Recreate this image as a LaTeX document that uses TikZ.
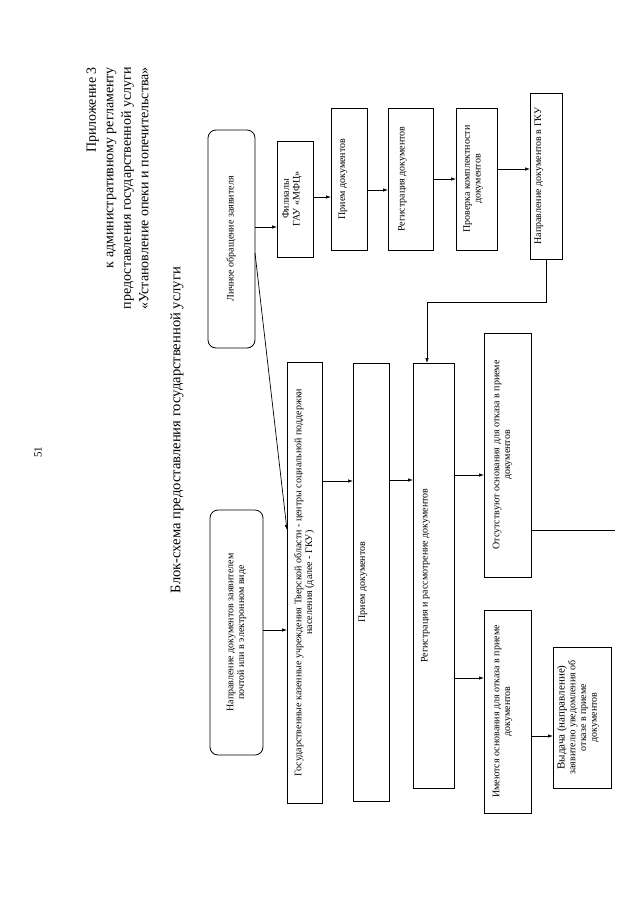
\documentclass[tikz,border=0pt]{standalone}
\usepackage{fontspec}
\setmainfont{Liberation Serif}
\usepackage{graphicx}
\usetikzlibrary{arrows.meta,calc}
\newcommand{\rt}[2]{\rotatebox{90}{\begin{tabular}{@{}c@{}}#2\end{tabular}}\hspace*{#1}}
\newcommand{\rtr}[1]{\rotatebox{90}{\begin{tabular}{@{}r@{}}#1\end{tabular}}}
\begin{document}
\begin{tikzpicture}[x=1pt,y=-1pt,
  box/.style={draw, line width=0.8pt, inner sep=0pt, outer sep=0pt,
    font=\fontsize{10}{10.8}\selectfont},
  rbox/.style={box, rounded corners=8pt},
  arr/.style={-{Latex[length=5pt,width=3.5pt]}, line width=0.7pt},
  ln/.style={line width=0.7pt},
  hdr/.style={inner sep=0pt, font=\fontsize{14}{17.5}\selectfont}]
\useasboundingbox[fill=white] (0,0) rectangle (640,903);

% header texts
\node[hdr, anchor=north] (hd) at (118.5,67) {\rtr{Приложение 3\\к административному регламенту\\предоставления государственной услуги\\«Установление опеки и попечительства»}};
\node[hdr, font=\fontsize{14.6}{17.5}\selectfont] (ttl) at (177,430) {\rotatebox{90}{Блок-схема предоставления государственной услуги}};
\node[inner sep=0pt, font=\fontsize{11}{13}\selectfont] (pg) at (38,452) {\rotatebox{90}{51}};

% upper row
\node[rbox, minimum width=47pt, minimum height=218pt] (lich) at (231.5,239) {\rt{0pt}{Личное обращение заявителя}};
\node[box, minimum width=36pt, minimum height=116pt] (fil) at (295,199) {\rt{6pt}{Филиалы\\ГАУ «МФЦ»}};
\node[box, minimum width=36pt, minimum height=142pt] (prm1) at (349,179) {\rt{12pt}{Прием документов}};
\node[box, minimum width=45pt, minimum height=142pt] (reg1) at (410.5,179) {\rt{16pt}{Регистрация документов}};
\node[box, minimum width=41pt, minimum height=142pt] (chk) at (476.5,179) {\rt{7pt}{Проверка комплектности\\документов}};
\node[box, minimum width=32pt, minimum height=166pt] (napr) at (546,176) {\rt{14pt}{Направление документов в ГКУ}};

% lower row
\node[rbox, minimum width=53pt, minimum height=245pt] (nap2) at (236.5,632.5) {\rt{0pt}{Направление документов заявителем\\почтой или в электронном виде}};
\node[box, minimum width=35pt, minimum height=441pt] (gku) at (304.5,582.5) {\rt{0pt}{Государственные казенные учреждения Тверской области - центры социальной поддержки\\населения (далее - ГКУ)}};
\node[box, minimum width=36pt, minimum height=438pt] (prm2) at (371,582) {\rt{16pt}{Прием документов}};
\node[box, minimum width=41pt, minimum height=425pt] (regr) at (433.5,575.5) {\rt{16pt}{Регистрация и рассмотрение документов}};
\node[box, minimum width=47pt, minimum height=244pt] (otsut) at (507.5,455) {\rt{10pt}{Отсутствуют основания для отказа в приеме\\документов}};
\node[box, minimum width=47pt, minimum height=203pt] (imeut) at (507.5,711.5) {\rt{10pt}{Имеются основания для отказа в приеме\\документов}};
\node[box, minimum width=58pt, minimum height=141pt] (vyd) at (582,717.5) {\rt{7pt}{{\fontsize{11}{12}\selectfont Выдача (направление)}\\заявителю уведомления об\\отказе в приеме\\документов}};

\coordinate (end1) at (615,530);
\coordinate (dstart) at (257,253);
\coordinate (dend) at (285,530);

% connectors upper row
\draw[arr] (lich.east |- 0,227) -- (fil.west |- 0,227);
\draw[arr] (fil.east |- 0,197) -- (prm1.west |- 0,197);
\draw[arr] (prm1.east |- 0,190) -- (reg1.west |- 0,190);
\draw[arr] (reg1.east |- 0,179) -- (chk.west |- 0,179);
\draw[arr] (chk.east |- 0,169) -- (napr.west |- 0,169);
\draw[arr] (napr.south) -- (napr.south |- 0,302) -| (regr.north -| 427,0);

% diagonal and lower row
\draw[arr] (lich.east |- dstart) -- (gku.west |- dend);
\draw[arr] (nap2.east |- 0,630) -- (gku.west |- 0,630);
\draw[arr] (gku.east |- 0,481) -- (prm2.west |- 0,481);
\draw[arr] (prm2.east |- 0,480) -- (regr.west |- 0,480);
\draw[arr] (regr.east |- 0,475) -- (otsut.west |- 0,475);
\draw[arr] (regr.east |- 0,678) -- (imeut.west |- 0,678);
\draw[arr] (imeut.east |- 0,736) -- (vyd.west |- 0,736);
\draw[ln] (otsut.east |- end1) -- (end1);
\end{tikzpicture}
\end{document}
